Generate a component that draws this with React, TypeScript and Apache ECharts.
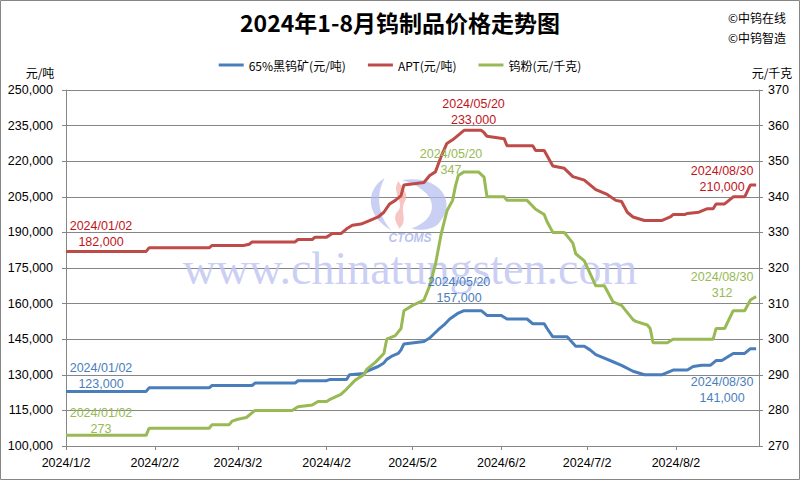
import React, { useEffect, useRef } from 'react';
import * as echarts from 'echarts';

// ---------- data ----------
const startDate = '2024-01-02';
const endDate = '2024-08-31';
const tickDates = ['2024-01-02', '2024-02-02', '2024-03-02', '2024-04-02', '2024-05-02', '2024-06-02', '2024-07-02', '2024-08-02'];
const tickLabels = ['2024/1/2', '2024/2/2', '2024/3/2', '2024/4/2', '2024/5/2', '2024/6/2', '2024/7/2', '2024/8/2'];

const seriesNames = ['65%黑钨矿(元/吨)', 'APT(元/吨)', '钨粉(元/千克)'];

const oreDates = ['2024-01-02', '2024-01-30', '2024-01-31', '2024-02-21', '2024-02-22', '2024-03-07', '2024-03-08', '2024-03-22', '2024-03-23', '2024-04-02', '2024-04-03', '2024-04-09', '2024-04-10', '2024-04-15', '2024-04-16', '2024-04-20', '2024-04-22', '2024-04-23', '2024-04-25', '2024-04-27', '2024-04-28', '2024-04-29', '2024-05-06', '2024-05-08', '2024-05-11', '2024-05-13', '2024-05-15', '2024-05-18', '2024-05-20', '2024-05-26', '2024-05-28', '2024-06-02', '2024-06-04', '2024-06-11', '2024-06-13', '2024-06-17', '2024-06-18', '2024-06-20', '2024-06-25', '2024-06-28', '2024-07-01', '2024-07-03', '2024-07-05', '2024-07-08', '2024-07-11', '2024-07-14', '2024-07-18', '2024-07-22', '2024-07-28', '2024-08-01', '2024-08-06', '2024-08-08', '2024-08-11', '2024-08-14', '2024-08-16', '2024-08-18', '2024-08-22', '2024-08-26', '2024-08-28', '2024-08-30'];
const oreValues = [123000, 123000, 124500, 124500, 125500, 125500, 126500, 126500, 127500, 127500, 128000, 128000, 130000, 130500, 131500, 133500, 135000, 136500, 138000, 139000, 140500, 143000, 144000, 145500, 149000, 151000, 153500, 156000, 157000, 157000, 155000, 155000, 153500, 153500, 151500, 151500, 149500, 146000, 146000, 142000, 142000, 140500, 138500, 137000, 135500, 134000, 131500, 130000, 130000, 132000, 132000, 133500, 134000, 134000, 136000, 136000, 139000, 139000, 141000, 141000];

const aptDates = ['2024-01-02', '2024-01-30', '2024-01-31', '2024-02-21', '2024-02-22', '2024-03-04', '2024-03-06', '2024-03-07', '2024-03-22', '2024-03-23', '2024-03-28', '2024-03-29', '2024-04-02', '2024-04-04', '2024-04-07', '2024-04-09', '2024-04-11', '2024-04-14', '2024-04-17', '2024-04-20', '2024-04-22', '2024-04-24', '2024-04-26', '2024-04-28', '2024-04-29', '2024-05-06', '2024-05-08', '2024-05-10', '2024-05-12', '2024-05-14', '2024-05-16', '2024-05-20', '2024-05-26', '2024-05-27', '2024-05-28', '2024-06-03', '2024-06-04', '2024-06-13', '2024-06-14', '2024-06-17', '2024-06-20', '2024-06-24', '2024-06-27', '2024-07-01', '2024-07-03', '2024-07-05', '2024-07-09', '2024-07-12', '2024-07-14', '2024-07-16', '2024-07-18', '2024-07-22', '2024-07-28', '2024-07-31', '2024-08-01', '2024-08-05', '2024-08-06', '2024-08-10', '2024-08-13', '2024-08-15', '2024-08-16', '2024-08-19', '2024-08-22', '2024-08-26', '2024-08-28', '2024-08-30'];
const aptValues = [182000, 182000, 183500, 183500, 184500, 184500, 185000, 186000, 186000, 187000, 187000, 188000, 188000, 189500, 189500, 191500, 193000, 193500, 195000, 196500, 198500, 202000, 203500, 205500, 210000, 211000, 214000, 215500, 222000, 227500, 229000, 233000, 233000, 232000, 230500, 229500, 226500, 226500, 224500, 224500, 218000, 217000, 213500, 212000, 210000, 208000, 206000, 203500, 203000, 198500, 196500, 195000, 195000, 196500, 197500, 197500, 198000, 198500, 200000, 200000, 202000, 202000, 205000, 205000, 210000, 210000];

const powderDates = ['2024-01-02', '2024-01-30', '2024-01-31', '2024-02-21', '2024-02-22', '2024-02-28', '2024-02-29', '2024-03-02', '2024-03-05', '2024-03-08', '2024-03-21', '2024-03-23', '2024-03-28', '2024-03-30', '2024-04-02', '2024-04-03', '2024-04-07', '2024-04-09', '2024-04-12', '2024-04-15', '2024-04-16', '2024-04-19', '2024-04-22', '2024-04-23', '2024-04-26', '2024-04-28', '2024-04-29', '2024-05-02', '2024-05-06', '2024-05-08', '2024-05-10', '2024-05-12', '2024-05-14', '2024-05-16', '2024-05-17', '2024-05-18', '2024-05-20', '2024-05-25', '2024-05-27', '2024-05-28', '2024-06-03', '2024-06-04', '2024-06-11', '2024-06-14', '2024-06-17', '2024-06-18', '2024-06-20', '2024-06-24', '2024-06-27', '2024-06-28', '2024-07-01', '2024-07-05', '2024-07-08', '2024-07-11', '2024-07-14', '2024-07-18', '2024-07-19', '2024-07-23', '2024-07-24', '2024-07-25', '2024-07-30', '2024-08-01', '2024-08-15', '2024-08-16', '2024-08-19', '2024-08-22', '2024-08-26', '2024-08-28', '2024-08-30'];
const powderValues = [273, 273, 275, 275, 276, 276, 277, 277.5, 278, 280, 280, 281, 281.5, 282.5, 282.5, 283, 284.5, 286, 288.5, 290, 291.5, 293.5, 296, 300, 301, 303, 308, 309.5, 311, 315, 321, 329.5, 336, 339, 343, 346, 347, 347, 345.5, 340, 340, 339, 339, 336.5, 335, 333, 330, 330, 327, 324, 322, 315, 315, 310.5, 309.5, 305.5, 305, 304, 303, 299, 299, 300, 300, 303, 303, 308, 308, 311, 312];

const annotatedDates = ['2024-01-02', '2024-05-20', '2024-08-30'];

// ---------- helpers ----------
const dayOf = (s: string) =>
  (Date.UTC(+s.slice(0, 4), +s.slice(5, 7) - 1, +s.slice(8, 10)) - Date.UTC(+startDate.slice(0, 4), +startDate.slice(5, 7) - 1, +startDate.slice(8, 10))) / 86400000;
const tickDays = tickDates.map(dayOf);
const fmt = (v: number) => v.toLocaleString('en-US');

const NUM_FONT = "'Liberation Sans', Arial, sans-serif";
const CJK_FONT = "'Noto Sans CJK SC', sans-serif";

echarts.graphic.registerShape('wmLeft', echarts.graphic.extendPath('M18 0 C2 10 0 35 24 50 C12 36 10 16 18 0 Z', {}));
echarts.graphic.registerShape('wmRight', echarts.graphic.extendPath('M0 2 C30 -4 48 22 30 44 C24 50 14 50 8 48 C30 40 34 14 0 2 Z', {}));
echarts.graphic.registerShape('wmFlame', echarts.graphic.extendPath('M6 0 C-2 12 14 22 4 32 C0 40 8 46 6 48 C16 40 6 30 12 20 C16 12 8 6 6 0 Z', {}));

function buildSeries(name: string, dates: string[], values: number[], color: string, textColor: string, yAxisIndex: number, offsets: number[][]) {
  const data = dates.map((d, i) => [dayOf(d), values[i]]);
  const marks = annotatedDates.map((ad, k) => {
    const i = dates.indexOf(ad);
    return {
      coord: [dayOf(ad), values[i]],
      label: { formatter: ad.replace(/-/g, '/') + '\n' + fmt(values[i]), offset: offsets[k] },
    };
  });
  return {
    name,
    type: 'line',
    yAxisIndex,
    data,
    showSymbol: false,
    symbol: 'none',
    lineStyle: { width: 3, color },
    itemStyle: { color },
    z: 3,
    markPoint: {
      symbol: 'rect',
      symbolSize: 1,
      silent: true,
      itemStyle: { color: 'rgba(0,0,0,0)' },
      label: { show: true, position: 'inside', color: textColor, fontSize: 12.5, lineHeight: 16, fontFamily: NUM_FONT },
      data: marks,
    },
  };
}

export default function App() {
  const ref = useRef<HTMLDivElement>(null);
  useEffect(() => {
    if (!ref.current) return;
    const chart = echarts.init(ref.current, undefined, { renderer: 'svg' });
    const axisGray = '#868686';
    const option: any = {
      animation: false,
      backgroundColor: '#ffffff',
      title: {
        text: '2024年1-8月钨制品价格走势图',
        left: 'center',
        top: 5,
        textStyle: { fontSize: 23, fontWeight: 'bold', fontFamily: CJK_FONT, color: '#000' },
      },
      legend: {
        top: 54,
        left: 'center',
        icon: 'rect',
        itemWidth: 25,
        itemHeight: 3,
        itemGap: 22,
        data: seriesNames,
        textStyle: { fontSize: 12, fontFamily: CJK_FONT, color: '#000' },
      },
      grid: { left: 66, right: 41, top: 90, bottom: 34, containLabel: false },
      xAxis: {
        type: 'value',
        min: 0,
        max: dayOf(endDate),
        axisLine: { show: true, onZero: false, lineStyle: { color: axisGray } },
        axisTick: { show: true, customValues: tickDays, length: 4, lineStyle: { color: axisGray } },
        axisLabel: {
          customValues: tickDays,
          formatter: (v: number) => tickLabels[tickDays.indexOf(v)] ?? '',
          margin: 10,
          fontSize: 12.5,
          fontFamily: NUM_FONT,
          color: '#000',
        },
        splitLine: { show: false },
      },
      yAxis: [
        {
          type: 'value',
          position: 'left',
          min: 100000,
          max: 250000,
          interval: 15000,
          axisLine: { show: true, lineStyle: { color: axisGray } },
          axisTick: { show: true, length: 4, lineStyle: { color: axisGray } },
          axisLabel: { formatter: (v: number) => fmt(v), margin: 13, fontSize: 12.5, fontFamily: NUM_FONT, color: '#000' },
          splitLine: { show: true, lineStyle: { color: axisGray, width: 1 } },
        },
        {
          type: 'value',
          position: 'right',
          min: 270,
          max: 370,
          interval: 10,
          axisLine: { show: true, lineStyle: { color: axisGray } },
          axisTick: { show: true, length: 4, lineStyle: { color: axisGray } },
          axisLabel: { margin: 9, fontSize: 12.5, fontFamily: NUM_FONT, color: '#000' },
          splitLine: { show: false },
        },
      ],
      graphic: [
        { type: 'rect', z: 100, shape: { x: 0.5, y: 0.5, width: 799, height: 479 }, style: { fill: 'none', stroke: axisGray, lineWidth: 1 } },
        { type: 'text', z: 1, x: 40, y: 72, style: { text: '元/吨', font: `12px ${CJK_FONT}`, fill: '#000', textAlign: 'center', textVerticalAlign: 'middle' } },
        { type: 'text', z: 1, x: 772, y: 72, style: { text: '元/千克', font: `12px ${CJK_FONT}`, fill: '#000', textAlign: 'center', textVerticalAlign: 'middle' } },
        { type: 'text', z: 1, x: 728, y: 17, style: { text: '©中钨在线', font: `12px ${CJK_FONT}`, fill: '#000', textAlign: 'left', textVerticalAlign: 'middle' } },
        { type: 'text', z: 1, x: 728, y: 37, style: { text: '©中钨智造', font: `12px ${CJK_FONT}`, fill: '#000', textAlign: 'left', textVerticalAlign: 'middle' } },
        { type: 'text', z: 1, x: 410, y: 268, style: { text: 'www.chinatungsten.com', font: `46px 'Liberation Serif', 'DejaVu Serif', serif`, fill: '#c3c7f3', opacity: 0.85, textAlign: 'center', textVerticalAlign: 'middle' } },
        { type: 'wmLeft', z: 1, x: 364, y: 178, scaleX: 1.15, scaleY: 1.05, style: { fill: '#b4bcf0', opacity: 0.7 } },
        { type: 'wmFlame', z: 1, x: 392, y: 181, scaleX: 1.1, scaleY: 1.0, style: { fill: '#f6b6b6', opacity: 0.8 } },
        { type: 'wmRight', z: 1, x: 402, y: 178, scaleX: 1.2, scaleY: 1.05, style: { fill: '#b4bcf0', opacity: 0.7 } },
        { type: 'text', z: 1, x: 410, y: 238, style: { text: 'CTOMS', font: `italic bold 12px ${NUM_FONT}`, fill: '#b9c2f0', textAlign: 'center', textVerticalAlign: 'middle' } },
      ],
      series: [
        buildSeries(seriesNames[0], oreDates, oreValues, '#4a7ebb', '#4a7ebb', 0, [[35, -15.5], [-5, -20.5], [-34, 41]]),
        buildSeries(seriesNames[1], aptDates, aptValues, '#be4b48', '#c0141c', 0, [[35, -17], [9.5, -18], [-34, -6]]),
        buildSeries(seriesNames[2], powderDates, powderValues, '#98b954', '#98b954', 1, [[35, -14], [-13, -10], [-34, -11.5]]),
      ],
    };
    chart.setOption(option);
    return () => chart.dispose();
  }, []);
  return <div ref={ref} style={{ position: 'absolute', left: 0, top: 0, width: 800, height: 480, background: '#fff' }} />;
}
